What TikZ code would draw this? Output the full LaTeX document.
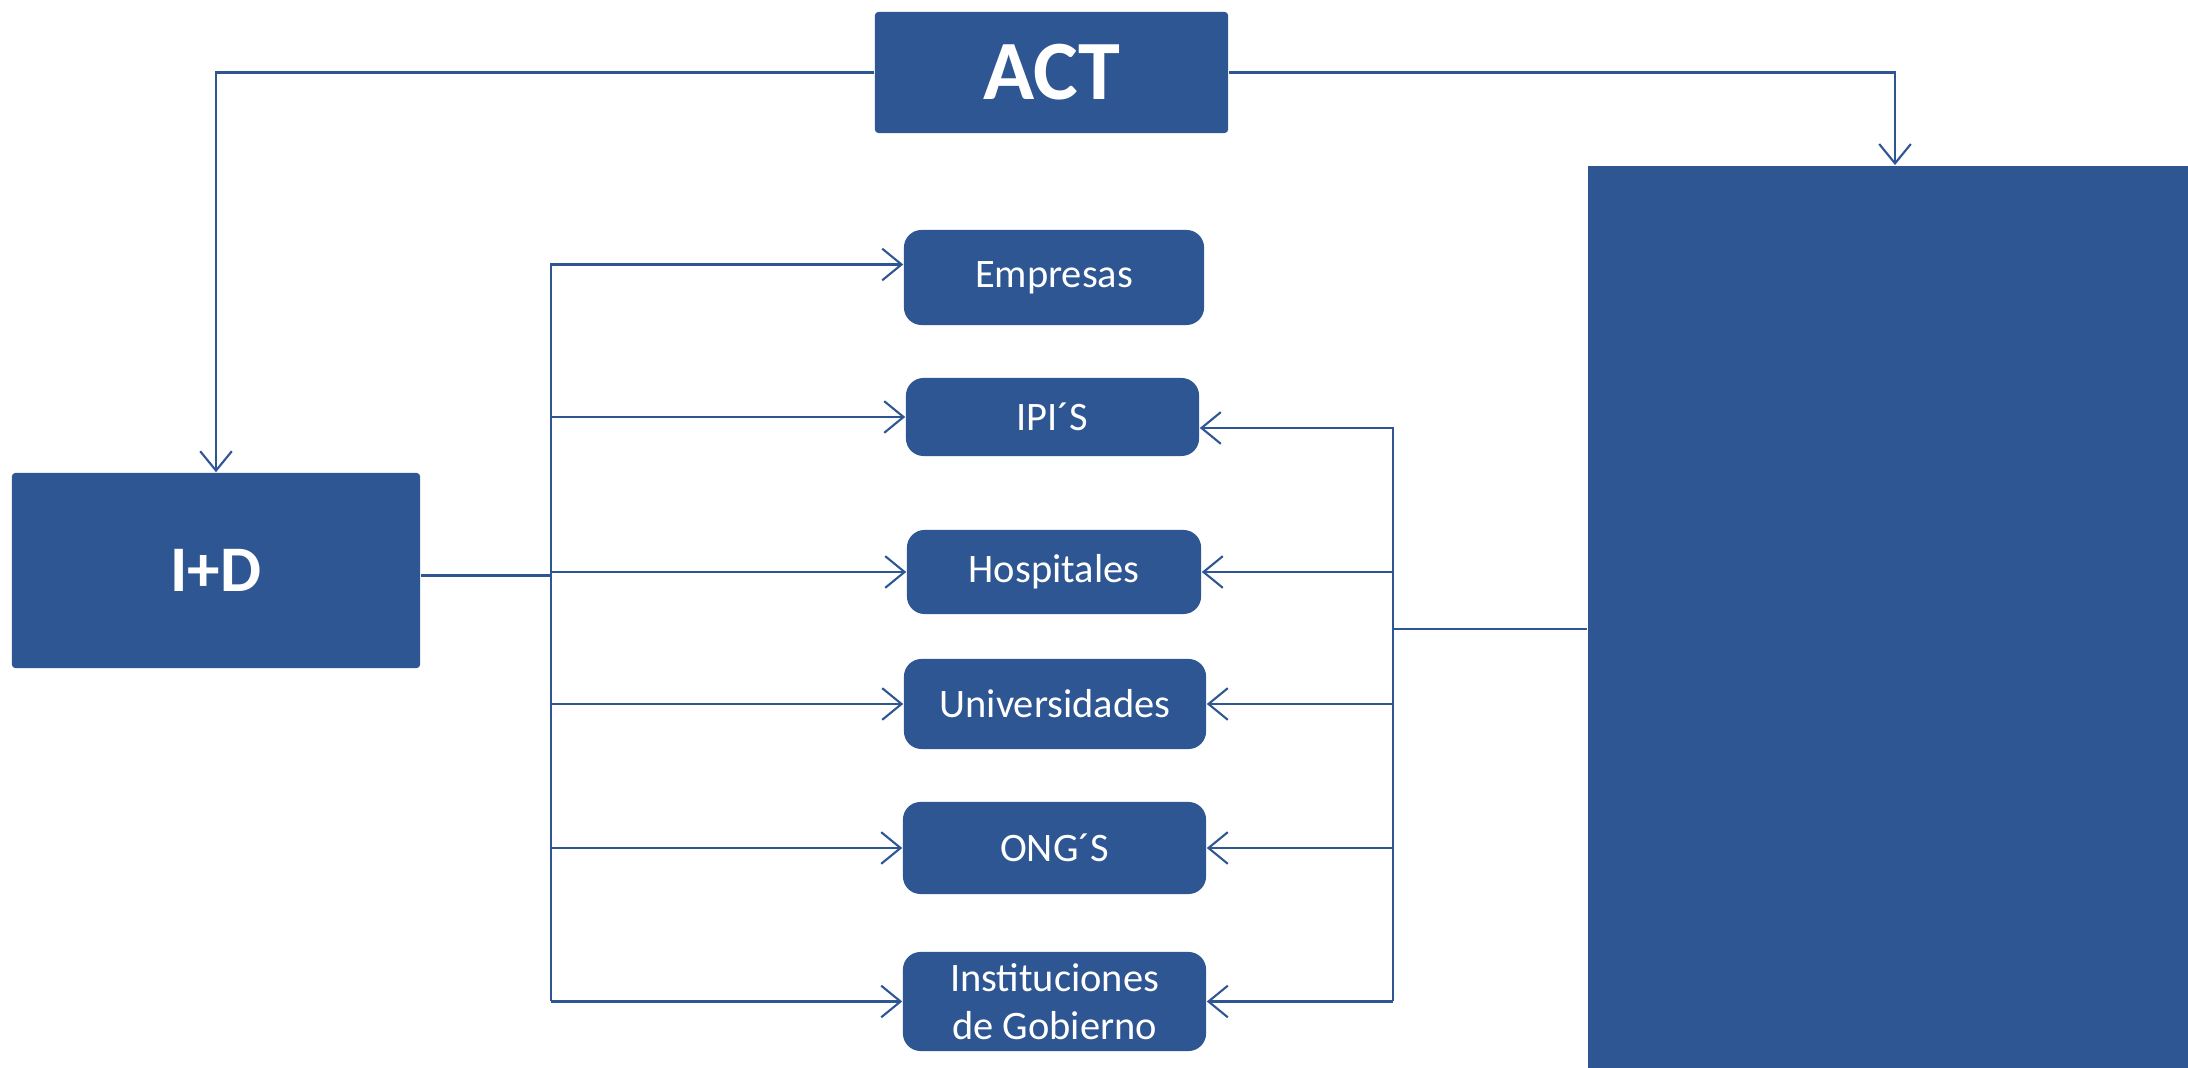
\documentclass[tikz,border=0pt]{standalone}
\usepackage{fontspec}
\setmainfont{Carlito}
\usepackage{xcolor}
\usetikzlibrary{arrows.meta}
\definecolor{boxblue}{RGB}{46,86,147}

\begin{document}
\begin{tikzpicture}[x=0.01cm, y=0.01cm]
\tikzstyle{every node}+=[inner sep=0pt]
\tikzstyle{flat}=[fill=boxblue, rounded corners=1pt, text=white]
\tikzstyle{rbox}=[fill=boxblue, rounded corners=5pt, text=white, align=center, font=\fontsize{11.5}{13.5}\selectfont]
\tikzstyle{link}=[boxblue, line width=0.6pt]
\tikzstyle{arr}=[link, -{Straight Barb[length=5.5pt,width=9pt]}]
\useasboundingbox (0,0) rectangle (2188,-1068);
\draw (1051.5,-72.5) node [flat, minimum width=3.53cm, minimum height=1.21cm, font=\fontsize{24}{28}\bfseries\selectfont] (act) {ACT};
\draw (216,-570.5) node [flat, minimum width=4.08cm, minimum height=1.95cm, font=\fontsize{18.5}{22}\bfseries\selectfont] (id) {I+D};
\draw (1888,-617) node [fill=boxblue, minimum width=6cm, minimum height=9.02cm] (panel) {};
\draw (1054,-277.5) node [rbox, minimum width=3.00cm, minimum height=0.95cm] (emp) {Empresas};
\draw (1052.5,-417) node [rbox, minimum width=2.93cm, minimum height=0.78cm] (ipi) {IPI´S};
\draw (1054,-572) node [rbox, minimum width=2.94cm, minimum height=0.84cm] (hos) {Hospitales};
\draw (1055,-704) node [rbox, minimum width=3.02cm, minimum height=0.90cm] (uni) {Universidades};
\draw (1054.5,-848) node [rbox, minimum width=3.03cm, minimum height=0.92cm] (ong) {ONG´S};
\draw (1054.5,-1001.5) node [rbox, minimum width=3.03cm, minimum height=0.99cm] (ins) {Instituciones\\de Gobierno};
\coordinate (lbus) at (551,0);
\coordinate (rbus) at (1393,0);
\coordinate (idout) at ([yshift=-0.05cm]id.east);
\coordinate (empin) at ([yshift=0.13cm]emp.west);
\coordinate (ipiin) at ([yshift=-0.11cm]ipi.east);
\coordinate (panelout) at ([yshift=-0.12cm]panel.west);
\coordinate (panelin) at ([xshift=0.07cm]panel.north);
\draw [arr] (act.west) -| (id.north);
\draw [arr] (act.east) -| (panelin);
\draw [link] (idout) -- (lbus |- idout);
\draw [arr] (lbus |- ins.west) -- (lbus |- empin) -- (empin);
\foreach \b in {ipi,hos,uni,ong,ins}
  \draw [arr] (lbus |- \b.west) -- (\b.west);
\draw [arr] (rbus |- ins.east) -- (rbus |- ipiin) -- (ipiin);
\foreach \b in {hos,uni,ong,ins}
  \draw [arr] (rbus |- \b.east) -- (\b.east);
\draw [link] (panelout) -- (rbus |- panelout);
\end{tikzpicture}
\end{document}
